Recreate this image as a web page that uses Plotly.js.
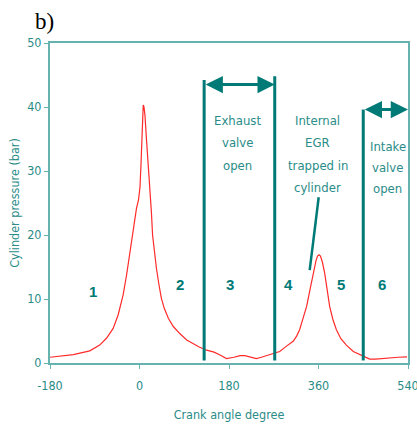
<!DOCTYPE html>
<html>
<head>
<meta charset="utf-8">
<script src="https://cdn.plot.ly/plotly-3.0.1.min.js"></script>
<style>html,body{margin:0;padding:0;background:#fff;}#chart{width:417px;height:425px;}</style>
</head>
<body>
<div id="chart"></div>
<script>
// Crank angle (deg) and cylinder pressure (bar)
const crankAngle = [-180,-160,-133,-100,-80,-66,-53,-43,-33,-26,-19,-13,-6,-2,1,3,4.5,6,7.5,9,11,14,17.5,21,24,26.3,30,34,39,44,50,58,68,81,95,120,135,150,162,175,190,202,212,225,235,245,255,265,272,282,295,309,316,322,329,336,343,349,355,358,361,364,368,372.5,377,382.5,389,396,405,416,430,446,452,463,475,490,503,520,538];
const pressure = [0.9,1.05,1.3,1.9,2.8,3.9,5.4,7.5,10.6,13.75,17.4,21,24.2,25.5,27.5,31,35.5,39,40.3,40,38.7,35,31.5,27.8,23.5,20,17.2,14.8,12.3,10.1,8.5,7.0,5.7,4.6,3.6,2.5,2.0,1.7,1.25,0.7,0.9,1.15,1.15,0.9,0.7,0.9,1.15,1.3,1.5,1.8,2.6,3.4,4.2,5.2,7.0,8.8,11.5,14.0,16.0,16.7,16.9,16.7,15.7,14.0,11.5,8.8,6.8,5.2,3.8,2.8,1.8,1.2,1.0,0.6,0.6,0.7,0.9,0.9,0.95];

const xTickVals = [-180, 0, 180, 360, 540];
const xTickText = ['-180', '0', '180', '360', '540'];
const yTickStart = 0, yTickStep = 10;

// Valve events (deg) and arrow heights (bar)
const exhaustValve = [130, 272];
const exhaustArrowY = 43.5;
const exhaustLineTop = [44.2, 44.8];
const intakeValve = [450, 540];
const intakeArrowY = 39.6;
const lineBottom = 0.4;

// Phase labels
const phaseLabels = ['1','2','3','4','5','6'];
const phaseX = [-94, 81, 181, 300, 406, 488];
const phaseY = [11.1, 12.2, 12.2, 12.2, 12.2, 12.2];

// Text blocks
const exhaustText = ['Exhaust','valve','open'];
const egrText = ['Internal','EGR','trapped in','cylinder'];
const intakeText = ['Intake','valve','open'];
const egrPointer = {x: [360.4, 342.3], y: [25.9, 14.5]};

const teal = '#007a76';
const textTeal = '#2a8c88';
const axisTeal = '#66b2ae';
const narrow = '"DejaVu Sans Condensed", "Liberation Sans Narrow", "Liberation Sans", Arial, sans-serif';

const shapes = [];
exhaustValve.forEach((v, i) => shapes.push({type:'line', xref:'x', yref:'y', x0:v, x1:v, y0:lineBottom, y1:exhaustLineTop[i], line:{color:teal, width:3}}));
shapes.push({type:'line', xref:'x', yref:'y', x0:intakeValve[0], x1:intakeValve[0], y0:lineBottom, y1:intakeArrowY, line:{color:teal, width:3}});
shapes.push({type:'line', xref:'x', yref:'y', x0:egrPointer.x[0], x1:egrPointer.x[1], y0:egrPointer.y[0], y1:egrPointer.y[1], line:{color:teal, width:2.5}});

const annotations = [];
function arrow(x0, x1, y) {
  annotations.push({xref:'x', yref:'y', axref:'x', ayref:'y', x:x1, y:y, ax:x0, ay:y, text:'', showarrow:true,
    arrowhead:2, startarrowhead:2, arrowside:'end+start', arrowsize:1.15, startarrowsize:1.15, arrowwidth:3, arrowcolor:teal});
}
arrow(exhaustValve[0], exhaustValve[1], exhaustArrowY);
arrow(intakeValve[0], intakeValve[1], intakeArrowY);

function textBlock(lines, x, yTop, spacing) {
  lines.forEach((t, i) => annotations.push({xref:'x', yref:'y', x:x, y:yTop, yshift:-i*spacing, text:t, showarrow:false,
    xanchor:'center', yanchor:'middle', font:{family:narrow, size:13, color:textTeal}}));
}
textBlock(exhaustText, 198, 37.9, 22.5);
textBlock(egrText, 358.5, 37.9, 22.3);
textBlock(intakeText, 499, 33.9, 21);

phaseLabels.forEach((t, i) => annotations.push({xref:'x', yref:'y', x:phaseX[i], y:phaseY[i], text:'<b>'+t+'</b>', showarrow:false,
  font:{family:'"Liberation Sans", Arial, sans-serif', size:15, color:teal}}));

const trace = {x: crankAngle, y: pressure, type:'scatter', mode:'lines', line:{color:'#ff2a2a', width:1.2}, hoverinfo:'skip'};

const layout = {
  width:417, height:425,
  margin:{l:50, r:9, t:43, b:62},
  paper_bgcolor:'#fff', plot_bgcolor:'#fff',
  showlegend:false,
  title:{text:'b)', xref:'container', yref:'container', x:35/417, xanchor:'left', y:1-21/425, yanchor:'middle',
    font:{family:'"Liberation Serif", "Times New Roman", serif', size:23, color:'#000'}},
  xaxis:{range:[-180,540], tickmode:'array', tickvals:xTickVals, ticktext:xTickText, ticks:'outside', ticklen:4, tickcolor:axisTeal,
    showline:true, linecolor:axisTeal, linewidth:2, mirror:true, showgrid:false, zeroline:false,
    ticklabeloverflow:'allow', ticklabelstandoff:6,
    tickfont:{family:narrow, size:12.5, color:textTeal},
    title:{text:'Crank angle degree', font:{family:narrow, size:12.5, color:textTeal}, standoff:18}},
  yaxis:{range:[0,50], tickmode:'linear', tick0:yTickStart, dtick:yTickStep, ticks:'outside', ticklen:4, tickcolor:axisTeal,
    showline:true, linecolor:axisTeal, linewidth:2, mirror:true, showgrid:false, zeroline:false,
    tickfont:{family:narrow, size:12.5, color:textTeal},
    title:{text:'Cylinder pressure (bar)', font:{family:narrow, size:12.5, color:textTeal}, standoff:5}},
  shapes:shapes,
  annotations:annotations
};

Plotly.newPlot('chart', [trace], layout, {staticPlot:true, displayModeBar:false});
</script>
</body>
</html>
